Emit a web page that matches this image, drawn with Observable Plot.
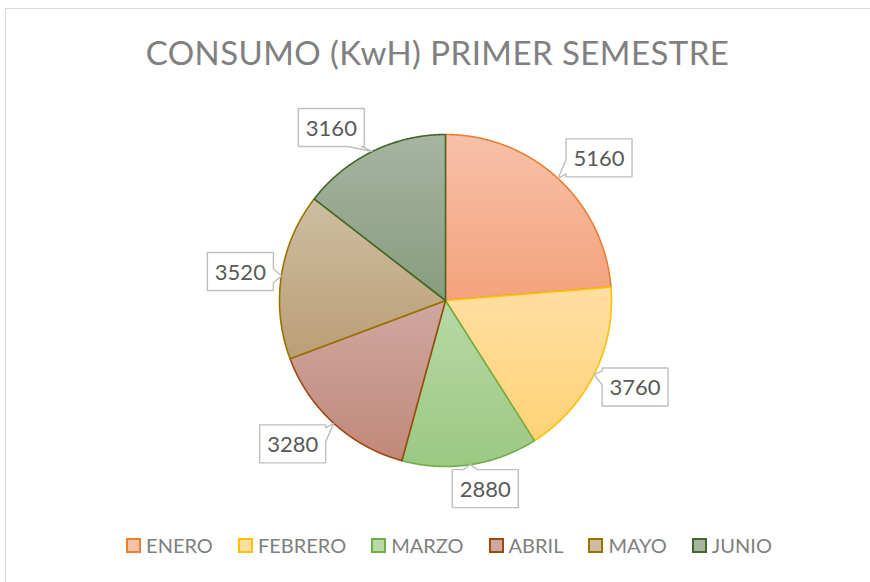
<!DOCTYPE html>
<html><head><meta charset="utf-8">
<script src="https://cdn.jsdelivr.net/npm/d3@7"></script>
<script src="https://cdn.jsdelivr.net/npm/@observablehq/plot@0.6"></script>
<style>
body{margin:0;background:#fff;}
#wrap{position:relative;width:870px;height:582px;overflow:hidden;font-family:Lato,"Open Sans",sans-serif;background:#fff;}
#frame{position:absolute;left:5px;top:8px;width:900px;height:600px;border-left:1px solid #D9D9D9;border-top:1px solid #D9D9D9;}
#chart{position:absolute;left:0;top:0;}
#title{position:absolute;left:5px;width:865px;top:32px;text-align:center;font-size:33px;color:#808080;white-space:nowrap;letter-spacing:0.45px;}
#legend{position:absolute;left:24px;width:850px;top:533px;display:flex;justify-content:center;gap:25px;font-size:20px;color:#7F7F7F;}
.item{display:flex;align-items:center;gap:5px;}
.sw{width:11px;height:11px;border:2px solid;}
</style></head>
<body><div id="wrap"><div id="frame"></div><div id="chart"></div>
<div id="title">CONSUMO (KwH) PRIMER SEMESTRE</div>
<div id="legend"></div></div>
<script>
const months = ["ENERO","FEBRERO","MARZO","ABRIL","MAYO","JUNIO"];
const values = [5160, 3760, 2880, 3280, 3520, 3160];

// styles
const strokeColors = ["#ED7D31","#FFC000","#70AD47","#9E480E","#997300","#43682B"];
const topColors    = ["#F7C1A8","#FFDFA2","#B8D8A6","#CFA8A0","#CEBDA2","#A7B4A1"];
const bottomColors = ["#F4A27C","#FFD277","#9CC882","#C1887A","#BB9E76","#879C7D"];

const W = 870, H = 582, cx = 445, cy = 300, R = 166;
const data = months.map((m, i) => ({month: m, value: values[i]}));
const arcs = d3.pie().sort(null).value(d => d.value)(data);

const pt = (a, r) => ({x: cx + r * Math.sin(a), y: cy - r * Math.cos(a)});

const sliceMarks = arcs.map((a, i) => {
  const pts = [{x: cx, y: cy}];
  const n = Math.max(8, Math.ceil((a.endAngle - a.startAngle) / 0.005));
  for (let k = 0; k <= n; k++) pts.push(pt(a.startAngle + (a.endAngle - a.startAngle) * k / n, R));
  pts.push({x: cx, y: cy});
  return Plot.line(pts, {x: "x", y: "y", fill: `url(#grad${i})`, stroke: strokeColors[i], strokeWidth: 1.6, strokeLinejoin: "round", curve: "linear"});
});

// callouts
const BW = 66, BH = 38, WH = 7;
const clamp = (v, lo, hi) => Math.max(lo, Math.min(hi, v));
const labels = arcs.map((a, i) => {
  const mid = (a.startAngle + a.endAngle) / 2;
  const tip = pt(mid, R);
  const sx = Math.sin(mid), sy = -Math.cos(mid);
  const bx = tip.x + clamp(sx * 100, -41, 41);
  const by = tip.y + clamp(sy * 28, -24, 24);
  const x0 = bx - BW / 2, x1 = bx + BW / 2, y0 = by - BH / 2, y1 = by + BH / 2;
  const dx = (tip.x - bx) / (BW / 2), dy = (tip.y - by) / (BH / 2);
  let edge;
  if (Math.abs(dx) > Math.abs(dy)) edge = dx < 0 ? "left" : "right";
  else edge = dy < 0 ? "top" : "bottom";
  const TL = {x: x0, y: y0}, TR = {x: x1, y: y0}, BR = {x: x1, y: y1}, BL = {x: x0, y: y1};
  let poly;
  if (edge === "top") { const c = clamp(tip.x, x0 + 10, x1 - 10); poly = [TL, {x: c - WH, y: y0}, tip, {x: c + WH, y: y0}, TR, BR, BL, TL]; }
  else if (edge === "right") { const c = clamp(tip.y, y0 + 10, y1 - 10); poly = [TL, TR, {x: x1, y: c - WH}, tip, {x: x1, y: c + WH}, BR, BL, TL]; }
  else if (edge === "bottom") { const c = clamp(tip.x, x0 + 10, x1 - 10); poly = [TL, TR, BR, {x: c + WH, y: y1}, tip, {x: c - WH, y: y1}, BL, TL]; }
  else { const c = clamp(tip.y, y0 + 10, y1 - 10); poly = [TL, TR, BR, BL, {x: x0, y: c + WH}, tip, {x: x0, y: c - WH}, TL]; }
  return {poly, bx, by, value: a.data.value};
});

const calloutMarks = labels.map(l => Plot.line(l.poly, {x: "x", y: "y", fill: "white", stroke: "#BFBFBF", strokeWidth: 1.4, strokeLinejoin: "miter", curve: "linear"}));

const svg = Plot.plot({
  width: W, height: H, margin: 0,
  x: {type: "linear", domain: [0, W], range: [0, W], axis: null},
  y: {type: "linear", domain: [0, H], range: [0, H], axis: null},
  style: {background: "transparent", overflow: "visible"},
  marks: [
    ...sliceMarks,
    ...calloutMarks,
    Plot.text(labels, {x: "bx", y: "by", text: d => String(d.value), fontSize: 22, fill: "#595959", fontFamily: "Lato, 'Open Sans', sans-serif", textAnchor: "middle", dy: 1})
  ]
});

const defs = d3.select(svg).insert("defs", ":first-child");
topColors.forEach((c, i) => {
  const g = defs.append("linearGradient").attr("id", `grad${i}`).attr("x1", 0).attr("y1", 0).attr("x2", 0).attr("y2", 1);
  g.append("stop").attr("offset", "0%").attr("stop-color", c);
  g.append("stop").attr("offset", "100%").attr("stop-color", bottomColors[i]);
});
document.getElementById("chart").appendChild(svg);

const legend = d3.select("#legend");
months.forEach((m, i) => {
  const it = legend.append("div").attr("class", "item");
  it.append("div").attr("class", "sw").style("border-color", strokeColors[i]).style("background", topColors[i]);
  it.append("span").text(m);
});
</script></body></html>
